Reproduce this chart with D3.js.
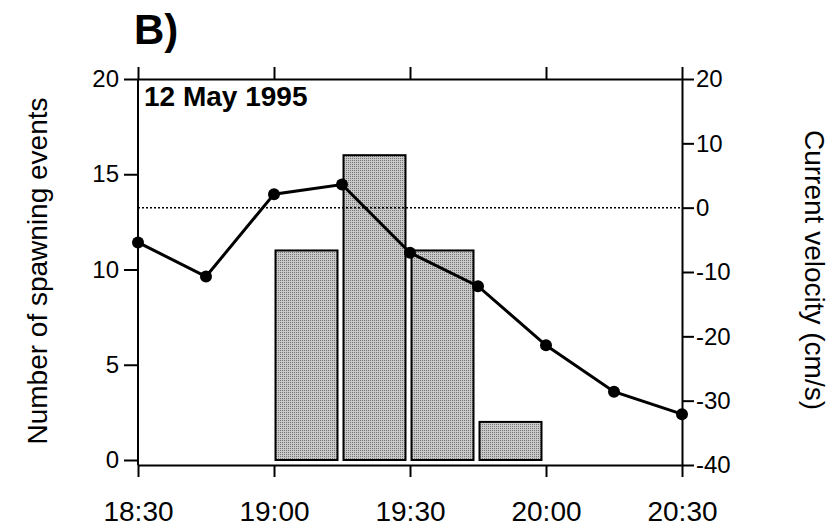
<!DOCTYPE html>
<html>
<head>
<meta charset="utf-8">
<script src="https://cdn.jsdelivr.net/npm/d3@7"></script>
<style>
  body { margin: 0; background: #fff; }
  svg text { font-family: "Liberation Sans", Arial, Helvetica, sans-serif; fill: #000; }
  .axis path, .axis line { stroke: #000; stroke-width: 2; }
</style>
</head>
<body>
<div id="chart"></div>
<script>
// minutes after 18:30
const timeTicks = [0, 30, 60, 90, 120];
const timeLabels = ['18:30', '19:00', '19:30', '20:00', '20:30'];

// spawning events per 15 min bin
const binStarts = [30, 45, 60, 75];
const spawnCounts = [11, 16, 11, 2];

// current velocity (cm/s)
const velTimes = [0, 15, 30, 45, 60, 75, 90, 105, 120];
const velocities = [-5.4, -10.7, 2.1, 3.6, -7.0, -12.2, -21.4, -28.6, -32.1];

const leftTicks = [0, 5, 10, 15, 20];
const rightTicks = [-40, -30, -20, -10, 0, 10, 20];

const width = 835, height = 529;
const plotLeft = 138, plotRight = 682, plotTop = 79, plotBottom = 465;

const svg = d3.select('#chart').append('svg')
    .attr('width', width)
    .attr('height', height);

// stippled grey like the printed bars
const pat = svg.append('defs').append('pattern')
    .attr('id', 'stipple')
    .attr('width', 2).attr('height', 2)
    .attr('patternUnits', 'userSpaceOnUse');
pat.append('rect').attr('width', 2).attr('height', 2).attr('fill', '#c9c9c9');
pat.append('rect').attr('width', 1).attr('height', 1).attr('fill', '#757575');

const x = d3.scaleLinear().domain([0, 120]).range([plotLeft, plotRight]);
const yL = d3.scaleLinear().domain([0, 20]).range([460, plotTop]);
const yR = d3.scaleLinear().domain([-40, 20]).range([plotBottom, plotTop]);

// bars
svg.append('g').selectAll('rect')
    .data(binStarts)
    .join('rect')
    .attr('x', (d) => x(d) + 1.5)
    .attr('y', (d, i) => yL(spawnCounts[i]))
    .attr('width', (d) => x(d + 15) - x(d) - 6)
    .attr('height', (d, i) => yL(0) - yL(spawnCounts[i]))
    .attr('fill', 'url(#stipple)')
    .attr('stroke', '#000')
    .attr('stroke-width', 2);

// zero velocity line
svg.append('line')
    .attr('x1', plotLeft).attr('x2', plotRight)
    .attr('y1', yR(0)).attr('y2', yR(0))
    .attr('stroke', '#000')
    .attr('stroke-width', 1.5)
    .attr('stroke-dasharray', '2,2');

// axes
svg.append('g').attr('class', 'axis')
    .attr('transform', `translate(${plotLeft},0)`)
    .call(d3.axisLeft(yL).tickValues(leftTicks).tickSize(14).tickPadding(5).tickSizeOuter(0))
    .call((g) => g.select('.domain').attr('d', `M0,${plotTop}V${plotBottom}`))
    .selectAll('text').style('font-size', '24px');

svg.append('g').attr('class', 'axis')
    .attr('transform', `translate(${plotRight},0)`)
    .call(d3.axisRight(yR).tickValues(rightTicks).tickSize(12).tickPadding(2).tickSizeOuter(0)
        .tickFormat((d) => String(d).replace('\u2212', '-')))
    .selectAll('text').style('font-size', '24px');

svg.append('g').attr('class', 'axis')
    .attr('transform', `translate(0,${plotBottom})`)
    .call(d3.axisBottom(x).tickValues(timeTicks).tickSize(12).tickPadding(24).tickSizeOuter(0)
        .tickFormat((d, i) => timeLabels[i]))
    .selectAll('text').style('font-size', '28px');

svg.append('g').attr('class', 'axis')
    .attr('transform', `translate(0,${plotTop})`)
    .call(d3.axisTop(x).tickValues(timeTicks).tickSize(12).tickSizeOuter(0).tickFormat(''));

// velocity line
svg.append('path')
    .datum(velTimes)
    .attr('fill', 'none')
    .attr('stroke', '#000')
    .attr('stroke-width', 3)
    .attr('d', d3.line().x((d) => x(d)).y((d, i) => yR(velocities[i])));

svg.append('g').selectAll('circle')
    .data(velTimes)
    .join('circle')
    .attr('cx', (d) => x(d))
    .attr('cy', (d, i) => yR(velocities[i]))
    .attr('r', 6)
    .attr('fill', '#000');

// labels
svg.append('text')
    .attr('x', 134).attr('y', 44)
    .style('font-size', '42px').style('font-weight', 'bold')
    .text('B)');

svg.append('text')
    .attr('x', 144).attr('y', 106)
    .style('font-size', '28px').style('font-weight', 'bold')
    .text('12 May 1995');

svg.append('text')
    .attr('transform', 'translate(47,271) rotate(-90)')
    .attr('text-anchor', 'middle')
    .style('font-size', '28px')
    .text('Number of spawning events');

svg.append('text')
    .attr('transform', 'translate(805,270) rotate(90)')
    .attr('text-anchor', 'middle')
    .style('font-size', '28px')
    .text('Current velocity (cm/s)');
</script>
</body>
</html>
